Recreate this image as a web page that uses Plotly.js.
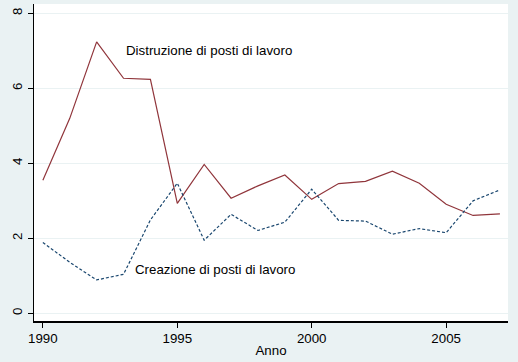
<!DOCTYPE html>
<html>
<head>
<meta charset="utf-8">
<script src="https://cdn.plot.ly/plotly-3.0.1.min.js"></script>
<style>html,body{margin:0;padding:0;background:#eaf2f3;}#chart{width:518px;height:362px;}</style>
</head>
<body>
<div id="chart"></div>
<script>
const years = [1990,1991,1992,1993,1994,1995,1996,1997,1998,1999,2000,2001,2002,2003,2004,2005,2006,2007];
const distruzione = [3.55,5.2,7.24,6.27,6.24,2.93,3.97,3.07,3.40,3.69,3.04,3.46,3.52,3.79,3.47,2.91,2.61,2.65];
const creazione = [1.89,1.36,0.89,1.04,2.49,3.47,1.95,2.64,2.21,2.43,3.31,2.48,2.46,2.11,2.26,2.15,3.0,3.29];
const xTicks = [1990,1995,2000,2005];
const yTicks = [0,2,4,6,8];
const labelDistruzione = "Distruzione di posti di lavoro";
const labelCreazione = "Creazione di posti di lavoro";

const font = {family: "Liberation Sans, Arial, sans-serif", size: 13.3, color: "#000"};

const traces = [
  {x: years, y: distruzione, type: "scatter", mode: "lines", line: {color: "#90353b", width: 1.2}, showlegend: false, hoverinfo: "skip"},
  {x: years, y: creazione, type: "scatter", mode: "lines", line: {color: "#1a476f", width: 1.2, dash: "3px,2px"}, showlegend: false, hoverinfo: "skip"}
];

const layout = {
  width: 518, height: 362,
  margin: {l: 34, r: 10, t: 4, b: 41},
  paper_bgcolor: "#eaf2f3",
  plot_bgcolor: "#ffffff",
  font: font,
  xaxis: {
    range: [1989.67, 2007.3],
    tickvals: xTicks, ticktext: xTicks.map(String),
    ticks: "outside", ticklen: 5, tickcolor: "#000", tickwidth: 1,
    showline: true, linecolor: "#000", linewidth: 1.5,
    showgrid: false, zeroline: false,
    tickfont: font,
    title: {text: "Anno", font: font, standoff: 0}
  },
  yaxis: {
    range: [-0.205, 8.25],
    tickvals: yTicks, ticktext: yTicks.map(String),
    tickangle: -90,
    ticks: "outside", ticklen: 5, tickcolor: "#000", tickwidth: 1,
    showline: true, linecolor: "#000", linewidth: 1.5,
    showgrid: true, gridcolor: "#eaf2f3", gridwidth: 1,
    zeroline: false,
    tickfont: font
  },
  annotations: [
    {x: 1993.03, y: 7.02, xref: "x", yref: "y", text: labelDistruzione, showarrow: false, xanchor: "left", yanchor: "middle", font: font},
    {x: 1993.37, y: 1.18, xref: "x", yref: "y", text: labelCreazione, showarrow: false, xanchor: "left", yanchor: "middle", font: font}
  ]
};

Plotly.newPlot("chart", traces, layout, {staticPlot: true, displayModeBar: false});
</script>
</body>
</html>
